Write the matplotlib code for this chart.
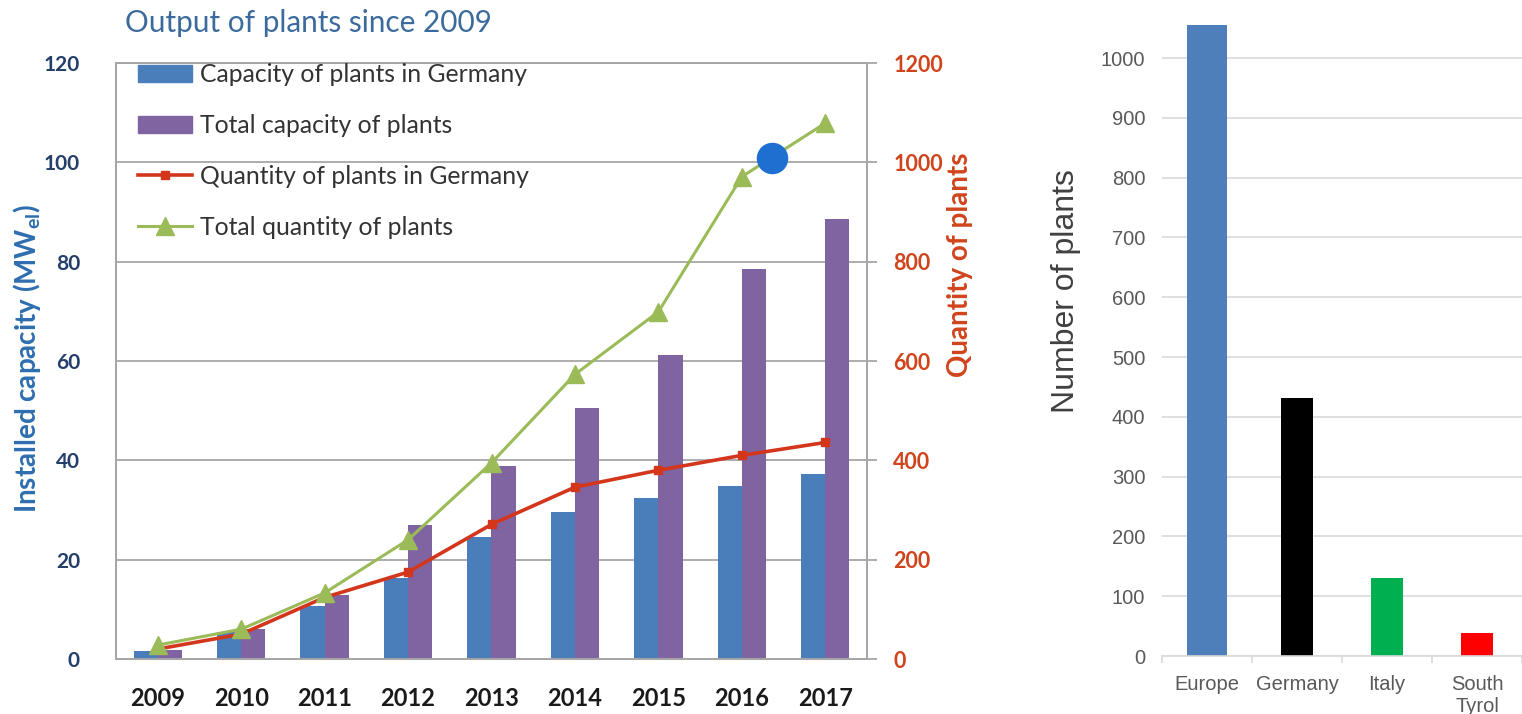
import numpy as np
import matplotlib
matplotlib.use("Agg")
import matplotlib.pyplot as plt
from matplotlib.patches import Patch
from matplotlib.lines import Line2D

# left chart data
years = ['2009', '2010', '2011', '2012', '2013', '2014', '2015', '2016', '2017']
cap_germany = [1.6, 5.5, 10.7, 16.4, 24.5, 29.6, 32.4, 34.8, 37.3]   # MW_el
cap_total = [1.9, 6.0, 12.9, 26.9, 38.8, 50.5, 61.2, 78.6, 88.5]     # MW_el
qty_germany = [20, 50, 124, 175, 271, 346, 380, 410, 436]
qty_total = [28, 60, 133, 240, 395, 573, 699, 971, 1079]
highlight_pos = 7.36
highlight_qty = 1008

# right chart data
regions = ['Europe', 'Germany', 'Italy', 'South\nTyrol']
n_plants = [1055, 431, 130, 38]
region_colors = ['#4f7fbb', '#000000', '#00b050', '#ff0000']

plt.rcParams['mathtext.fontset'] = 'custom'
plt.rcParams['mathtext.rm'] = 'Lato'
plt.rcParams['mathtext.bf'] = 'Lato:bold'

W, H = 1522, 714
fig = plt.figure(figsize=(W / 100, H / 100), dpi=100)

def fx(px):
    return px / W

def fy(py):
    return 1 - py / H

grid_c = '#a6a6a6'
blue = '#4a7ebb'
purple = '#8064a2'
red = '#d4361c'
green = '#9bbb59'
orange_txt = '#d0441c'

# ---- left chart ----
ax = fig.add_axes([fx(116), fy(659), fx(867 - 116), (659 - 63) / H])
x = np.arange(len(years))
bw = 0.29
ax.bar(x - bw / 2, cap_germany, bw, color=blue, zorder=2)
ax.bar(x + bw / 2, cap_total, bw, color=purple, zorder=2)
ax.set_xlim(-0.5, len(years) - 0.5)
ax.set_ylim(0, 120)
ax.set_yticks(np.arange(0, 121, 20))
ax.yaxis.grid(True, color=grid_c, lw=1.3, zorder=0)
ax.set_axisbelow(True)
ax.set_xticks(x)
ax.set_xticklabels(years, fontfamily='Lato', fontweight='bold', fontsize=17, color='#1a1a1a')
ax.tick_params(axis='x', length=0, pad=20)
ax.tick_params(axis='y', length=0, pad=26, labelsize=15, labelcolor='#24406a')
for t in ax.get_yticklabels():
    t.set_fontfamily('Lato')
    t.set_fontweight('bold')
for s in ax.spines.values():
    s.set_color(grid_c)
    s.set_linewidth(1.3)

axr = ax.twinx()
axr.plot(x, qty_germany, color=red, lw=2.6, marker='s', ms=6, zorder=3)
axr.plot(x, qty_total, color=green, lw=2.2, marker='^', ms=13, zorder=3)
axr.scatter([highlight_pos], [highlight_qty], s=470, color='#1f6fd0', zorder=4)
axr.set_ylim(0, 1200)
axr.set_yticks(np.arange(0, 1201, 200))
axr.tick_params(axis='y', length=7, width=1.3, color=grid_c, pad=12,
                labelsize=15.5, labelcolor=orange_txt)
for t in axr.get_yticklabels():
    t.set_fontfamily('Lato')
    t.set_fontweight('bold')
for s in axr.spines.values():
    s.set_color(grid_c)
    s.set_linewidth(1.3)

handles = [Patch(color=blue), Patch(color=purple),
           Line2D([], [], color=red, lw=2.6, marker='s', ms=6),
           Line2D([], [], color=green, lw=2.2, marker='^', ms=13)]
labels = ['Capacity of plants in Germany', 'Total capacity of plants',
          'Quantity of plants in Germany', 'Total quantity of plants']
fig.legend(handles, labels, loc='upper left', bbox_to_anchor=(fx(138), fy(63)),
           bbox_transform=fig.transFigure, frameon=False, borderpad=0,
           borderaxespad=0, handlelength=2.2, handletextpad=0.3,
           labelspacing=1.13, numpoints=1,
           prop={'family': 'Lato', 'size': 17.8}, labelcolor='#333333')

fig.text(fx(125), fy(23), 'Output of plants since 2009', fontfamily='Lato',
         fontsize=21.4, color='#3b6b9c', va='center', ha='left')
fig.text(fx(27), fy(359), r'Installed capacity (MW$_{\mathbf{el}}$)', rotation=90,
         fontfamily='Lato', fontweight='bold', fontsize=20, color='#2e6eb0',
         ha='center', va='center')
fig.text(fx(960), fy(265), 'Quantity of plants', rotation=90,
         fontfamily='Lato', fontweight='bold', fontsize=20, color=orange_txt,
         ha='center', va='center')

# ---- right chart ----
ax2 = fig.add_axes([fx(1162), fy(656), fx(W - 1162), 656 / H])
xr = np.arange(len(regions))
ax2.bar(xr, n_plants, [0.45, 0.345, 0.345, 0.345], color=region_colors, zorder=2)
ax2.set_xlim(-0.5, len(regions) - 0.5)
ax2.set_ylim(0, 1097)
ax2.set_yticks(np.arange(0, 1001, 100))
ax2.yaxis.grid(True, color='#d9d9d9', lw=1.2, zorder=0)
ax2.set_axisbelow(True)
ax2.set_xticks(xr)
ax2.set_xticklabels(regions)
ax2.set_xticks(np.arange(-0.5, len(regions)), minor=True)
ax2.tick_params(axis='x', which='major', length=0, pad=14)
ax2.tick_params(axis='x', which='minor', length=5, color='#d9d9d9', width=1.2)
ax2.tick_params(axis='y', length=0, pad=12)
for t in ax2.get_xticklabels() + ax2.get_yticklabels():
    t.set_fontfamily('Liberation Sans')
    t.set_fontsize(14.5)
    t.set_color('#595959')
for k in ['top', 'right', 'left']:
    ax2.spines[k].set_visible(False)
ax2.spines['bottom'].set_color('#d9d9d9')
ax2.spines['bottom'].set_linewidth(1.2)

fig.text(fx(1066), fy(291), 'Number of plants', rotation=90,
         fontfamily='Liberation Sans', fontsize=23, color='#404040',
         ha='center', va='center')

fig.savefig('out.png', dpi=100)
